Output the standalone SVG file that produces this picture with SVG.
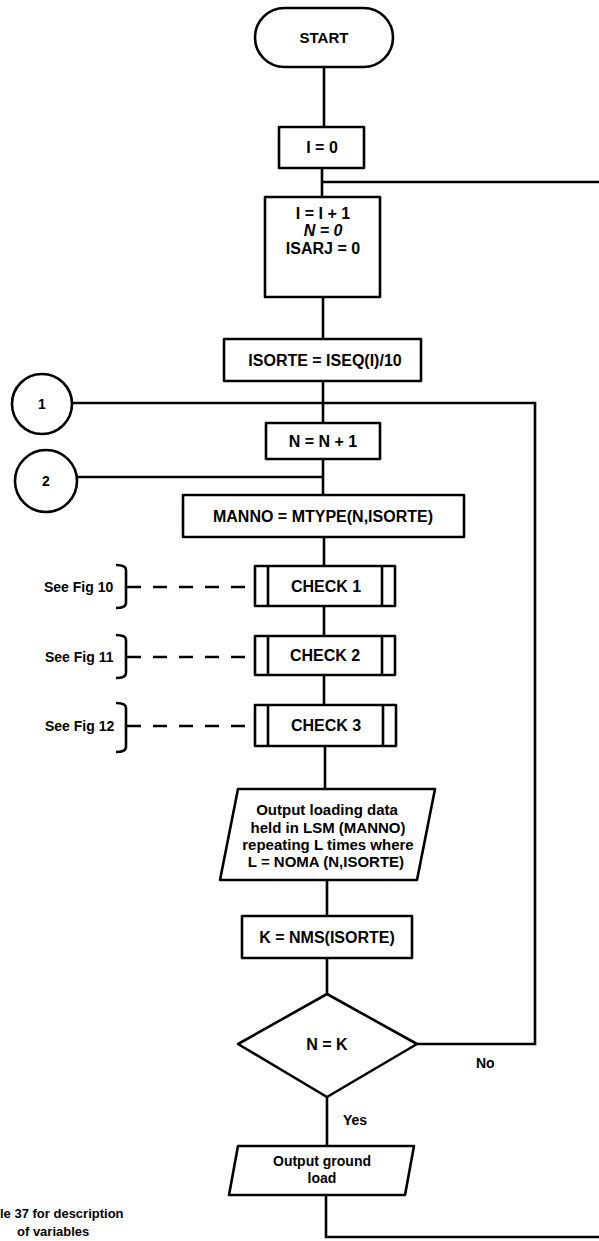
<svg xmlns="http://www.w3.org/2000/svg" width="599" height="1241" viewBox="0 0 599 1241">
<style>
.s{fill:#fff;stroke:#000;stroke-width:2.6;stroke-linejoin:round}
.c{fill:none;stroke:#000;stroke-width:2.6}
.d{fill:none;stroke:#000;stroke-width:2.6;stroke-dasharray:14 12}
text{font-family:"Liberation Sans",Arial,sans-serif;font-weight:bold;fill:#000}
.t{font-size:16px;text-anchor:middle}
.m{font-size:15px;text-anchor:middle}
.l{font-size:14px}
</style>
<rect width="599" height="1241" fill="#fff"/>
<g id="connectors">
<path class="c" d="M324,67 V127 M322,168 V197 M323,182 H599 M323,297 V339 M323,381 V423 M72,403 H535 V1044 H417 M323,459 V495 M77,477 H323 M324,537 V566 M324,606 V636 M324,675 V705 M325,746 V789 M327,880 V916 M327,958 V994 M327,1097 V1146 M326,1195 V1237 H599"/>
<path class="d" d="M127,587 H255 M127,657 H255 M127,726 H255"/>
<path class="c" d="M116,565 Q126,565 126,570 V603 Q126,608 116,608 M116,635 Q126,635 126,640 V673 Q126,678 116,678 M116,703 Q126,703 126,708 V747 Q126,752 116,752"/>
</g>
<g id="start"><rect class="s" x="255" y="8" width="138" height="59" rx="29.5"/><text class="m" x="324" y="43">START</text></g>
<g id="i0"><rect class="s" x="279" y="127" width="85" height="41"/><text class="t" x="322" y="153">I = 0</text></g>
<g id="init"><rect class="s" x="265" y="197" width="115" height="100"/><text class="t" x="323" y="219">I = I + 1</text><text class="t" x="323" y="236" font-style="italic">N = 0</text><text class="t" x="323" y="254">ISARJ = 0</text></g>
<g id="isorte"><rect class="s" x="224" y="339" width="197" height="42"/><text class="t" x="325" y="366">ISORTE = ISEQ(I)/10</text></g>
<g id="c1"><circle class="s" cx="42" cy="404" r="30"/><text class="l" x="42" y="409" text-anchor="middle">1</text></g>
<g id="nn1"><rect class="s" x="266" y="423" width="114" height="36"/><text class="t" x="323" y="447">N = N + 1</text></g>
<g id="c2"><circle class="s" cx="46" cy="481" r="31"/><text class="l" x="46" y="486" text-anchor="middle">2</text></g>
<g id="manno"><rect class="s" x="183" y="495" width="281" height="42"/><text class="t" x="323" y="522">MANNO = MTYPE(N,ISORTE)</text></g>
<g id="check1"><rect class="s" x="255" y="566" width="140" height="40"/><path class="c" d="M268,566 V606 M382,566 V606"/><text class="t" x="326" y="592">CHECK 1</text><text class="l" x="44" y="592">See Fig 10</text></g>
<g id="check2"><rect class="s" x="255" y="636" width="140" height="39"/><path class="c" d="M268,636 V675 M382,636 V675"/><text class="t" x="325" y="661">CHECK 2</text><text class="l" x="45" y="662">See Fig 11</text></g>
<g id="check3"><rect class="s" x="255" y="705" width="141" height="41"/><path class="c" d="M268,705 V746 M383,705 V746"/><text class="t" x="326" y="731">CHECK 3</text><text class="l" x="45" y="731">See Fig 12</text></g>
<g id="output1"><polygon class="s" points="238,789 435,789 417,880 220,880"/><text class="m" x="327" y="815">Output loading data</text><text class="m" x="328" y="833">held in LSM (MANNO)</text><text class="m" x="328" y="850">repeating L times where</text><text class="m" x="326" y="867">L = NOMA (N,ISORTE)</text></g>
<g id="kbox"><rect class="s" x="242" y="916" width="170" height="42"/><text class="t" x="327" y="943">K = NMS(ISORTE)</text></g>
<g id="decision"><polygon class="s" points="327,994 417,1044 327,1097 238,1044"/><text class="t" x="327" y="1050">N = K</text><text class="l" x="476" y="1068">No</text><text class="l" x="343" y="1125">Yes</text></g>
<g id="output2"><polygon class="s" points="238,1146 414,1146 405,1195 229,1195"/><text class="l" x="322" y="1166" text-anchor="middle">Output ground</text><text class="l" x="322" y="1183" text-anchor="middle">load</text></g>
<g id="note"><text x="0" y="1218" font-size="13px">le 37 for description</text><text x="17" y="1236" font-size="13px">of variables</text></g>
</svg>
